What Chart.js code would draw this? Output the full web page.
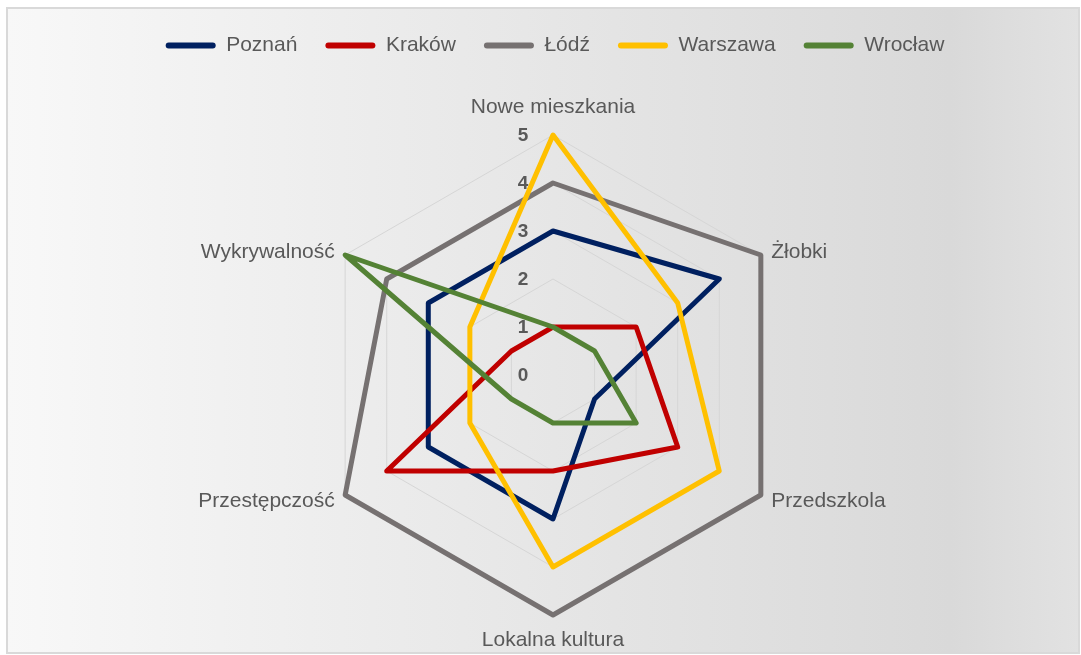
<!DOCTYPE html>
<html>
<head>
<meta charset="utf-8">
<script src="https://cdn.jsdelivr.net/npm/chart.js@4.4.1/dist/chart.umd.min.js"></script>
<style>
  html, body { margin: 0; padding: 0; background: #ffffff; overflow: hidden; }
  canvas { display: block; }
</style>
</head>
<body>
<canvas id="c" width="1081" height="655"></canvas>
<script>
// ---- data ----
const categories = ['Nowe mieszkania', 'Żłobki', 'Przedszkola', 'Lokalna kultura', 'Przestępczość', 'Wykrywalność'];
const seriesNames = ['Poznań', 'Kraków', 'Łódź', 'Warszawa', 'Wrocław'];
const poznan   = [3, 4, 1, 3, 3, 3];
const krakow   = [1, 2, 3, 2, 4, 1];
const lodz     = [4, 5, 5, 5, 5, 4];
const warszawa = [5, 3, 4, 4, 2, 2];
const wroclaw  = [1, 1, 2, 1, 1, 5];
const tickValues = [0, 1, 2, 3, 4, 5];

const seriesValues = [poznan, krakow, lodz, warszawa, wroclaw];
const seriesColors = ['#002060', '#C00000', '#767171', '#FFC000', '#548235'];

const FONT = "'Liberation Sans', Arial, sans-serif";
const TEXT = '#595959';

const backgroundPlugin = {
  id: 'bg',
  beforeDraw(chart) {
    const ctx = chart.ctx;
    ctx.save();
    ctx.fillStyle = '#ffffff';
    ctx.fillRect(0, 0, chart.width, chart.height);
    const g = ctx.createLinearGradient(7, 0, 1079, 0);
    g.addColorStop(0, '#f8f8f8');
    g.addColorStop(0.88, '#d9d9d9');
    g.addColorStop(1, '#e2e2e2');
    ctx.fillStyle = g;
    ctx.fillRect(7, 8, 1072, 645);
    ctx.strokeStyle = '#d9d9d9';
    ctx.lineWidth = 2;
    ctx.strokeRect(7, 8, 1072, 645);
    ctx.restore();
  }
};

const tickLabelPlugin = {
  id: 'tickLabels',
  beforeDatasetsDraw(chart) {
    const s = chart.scales.r;
    const ctx = chart.ctx;
    ctx.save();
    ctx.font = 'bold 19px ' + FONT;
    ctx.fillStyle = TEXT;
    ctx.textAlign = 'center';
    ctx.textBaseline = 'middle';
    tickValues.forEach(v => {
      const d = s.getDistanceFromCenterForValue(v);
      ctx.fillText(String(v), s.xCenter - 30, s.yCenter - d + 1);
    });
    ctx.restore();
  }
};

const pointLabelPlugin = {
  id: 'pointLabelsCustom',
  afterDraw(chart) {
    const s = chart.scales.r;
    const ctx = chart.ctx;
    ctx.save();
    ctx.font = '21px ' + FONT;
    ctx.fillStyle = TEXT;
    ctx.textBaseline = 'middle';
    categories.forEach((lab, i) => {
      const deg = i * 360 / categories.length;
      let pad, align, dy = 0;
      if (deg === 0) { pad = 28; align = 'center'; }
      else if (deg === 180) { pad = 25; align = 'center'; }
      else { pad = 12; align = deg < 180 ? 'left' : 'right'; dy = (deg < 90 || deg > 270) ? 3 : 0; }
      const p = s.getPointPosition(i, s.drawingArea + pad);
      ctx.textAlign = align;
      ctx.fillText(lab, p.x, p.y + dy);
    });
    ctx.restore();
  }
};

const datasets = seriesNames.map((name, i) => ({
  label: name,
  data: seriesValues[i],
  borderColor: seriesColors[i],
  backgroundColor: seriesColors[i],
  fill: false,
  borderWidth: 5,
  borderJoinStyle: 'round',
  pointRadius: 0,
  pointHoverRadius: 0,
  clip: false,
  order: seriesNames.length - i
}));

new Chart(document.getElementById('c'), {
  type: 'radar',
  data: { labels: categories, datasets },
  options: {
    responsive: false,
    animation: false,
    layout: { padding: { top: 7, left: 29, right: 0, bottom: 0 } },
    plugins: {
      legend: {
        position: 'top',
        labels: {
          font: { family: FONT, size: 21 },
          color: TEXT,
          boxWidth: 50,
          boxHeight: 6,
          padding: 28,
          useBorderRadius: true,
          borderRadius: 3,
          sort: (a, b) => a.datasetIndex - b.datasetIndex,
          generateLabels(chart) {
            return chart.data.datasets.map((ds, i) => ({
              text: ds.label,
              fillStyle: ds.borderColor,
              strokeStyle: ds.borderColor,
              lineWidth: 0,
              fontColor: TEXT,
              hidden: false,
              datasetIndex: i,
              borderRadius: 3
            }));
          }
        }
      },
      tooltip: { enabled: false }
    },
    scales: {
      r: {
        min: 0,
        max: 5,
        ticks: { stepSize: 1, display: false },
        grid: { color: '#d6d6d6', lineWidth: 1 },
        angleLines: { display: false },
        pointLabels: { display: false },
        afterFit(scale) {
          scale.xCenter = 553;
          scale.yCenter = 375;
          scale.drawingArea = 240;
        }
      }
    }
  },
  plugins: [backgroundPlugin, tickLabelPlugin, pointLabelPlugin]
});
</script>
</body>
</html>
